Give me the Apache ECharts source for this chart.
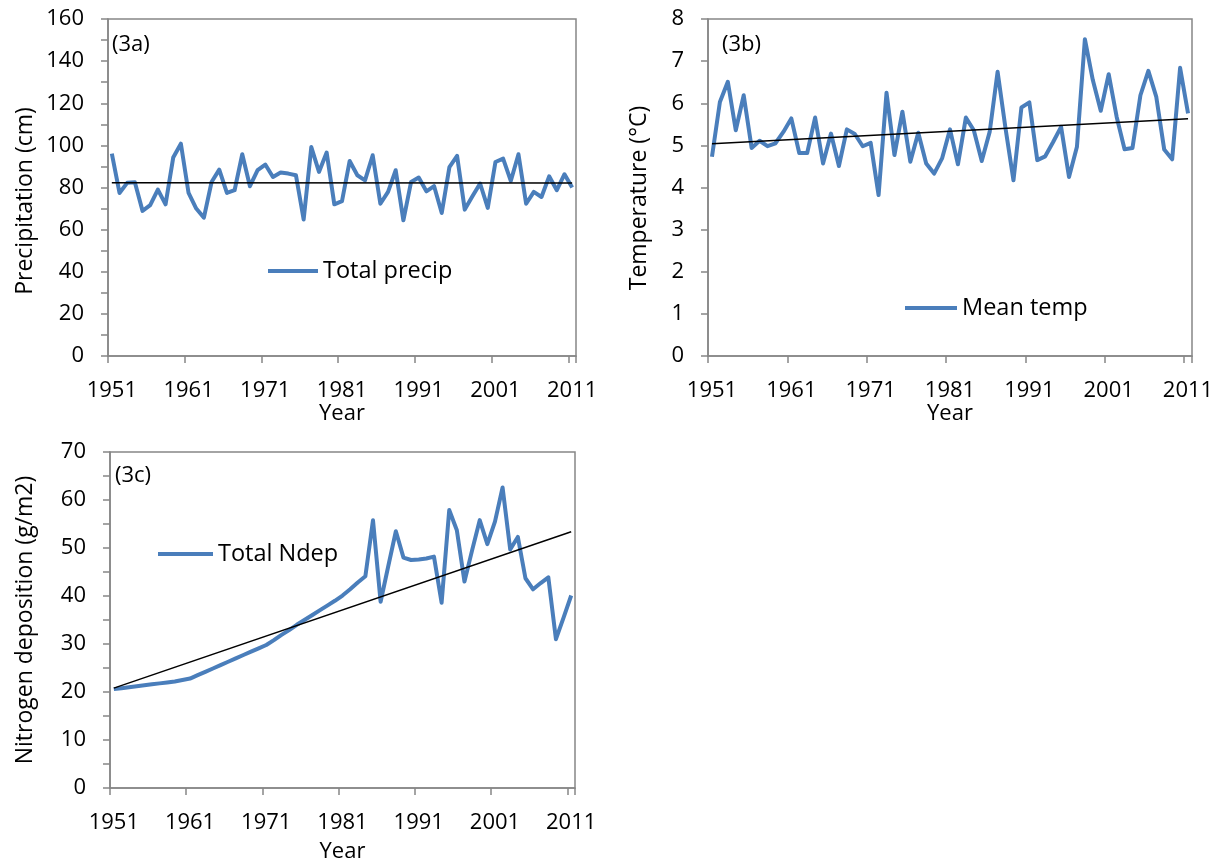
<!DOCTYPE html>
<html>
<head>
<meta charset="utf-8">
<script src="https://cdn.jsdelivr.net/npm/echarts@6/dist/echarts.min.js"></script>
<style>
html,body{margin:0;padding:0;background:#fff;}
#chart{width:1224px;height:867px;}
</style>
</head>
<body>
<div id="chart"></div>
<script>
// ---- data ----
const years = Array.from({length: 61}, (_, i) => String(1951 + i));

const precip = [
  96.1, 77.4, 82.2, 82.5, 68.9, 71.6, 79.0, 72.0, 94.2, 100.8,
  77.4, 70.0, 65.7, 82.6, 88.5, 77.4, 78.7, 95.8, 80.6, 88.2,
  90.9, 85.0, 87.1, 86.6, 85.8, 64.8, 99.2, 87.4, 96.6, 72.0,
  73.5, 92.6, 85.8, 83.4, 95.3, 72.3, 77.9, 88.2, 64.4, 82.6,
  84.7, 78.2, 80.7, 67.9, 89.7, 95.0, 69.5, 75.8, 81.9, 70.3,
  92.1, 93.7, 83.1, 95.8, 72.3, 77.9, 75.5, 85.3, 78.7, 86.3,
  80.0
];
const temp = [
  4.73, 6.03, 6.51, 5.36, 6.19, 4.94, 5.11, 4.98, 5.05, 5.32,
  5.64, 4.82, 4.82, 5.66, 4.57, 5.28, 4.51, 5.38, 5.27, 4.98,
  5.06, 3.82, 6.25, 4.77, 5.80, 4.61, 5.30, 4.57, 4.33, 4.69,
  5.38, 4.55, 5.66, 5.36, 4.63, 5.32, 6.75, 5.40, 4.17, 5.90,
  6.02, 4.65, 4.74, 5.08, 5.44, 4.25, 4.97, 7.52, 6.55, 5.82,
  6.69, 5.68, 4.91, 4.94, 6.19, 6.77, 6.15, 4.90, 4.67, 6.84,
  5.76
];
const ndep = [
  20.6, 20.8, 21.0, 21.2, 21.4, 21.6, 21.8, 22.0, 22.2, 22.5, 22.8,
  23.5, 24.2, 24.9, 25.6, 26.3, 27.0, 27.7, 28.4, 29.1, 29.8,
  30.8, 31.9, 32.9, 34.0, 35.0, 36.0, 37.0, 38.0, 39.0, 40.1,
  41.4, 42.8, 44.1, 55.8, 38.8, 46.2, 53.5, 48.0, 47.5, 47.6,
  47.8, 48.2, 38.6, 57.9, 53.7, 43.0, 49.5, 55.8, 50.8, 55.5,
  62.6, 49.7, 52.3, 43.7, 41.4, 42.7, 43.9, 31.0, 35.5, 40.1
];
// trendline end values (first year, last year)
const precipTrend = [82.3, 82.1];
const tempTrend = [5.04, 5.63];
const ndepTrend = [20.8, 53.4];

// ---- styling ----
const FONT = '"Open Sans", "Noto Sans", sans-serif';
const GRAY = '#868686';
const BLUE = '#4a7ebb';

function xAxisDef(gridIndex, nameGap) {
  return {
    type: 'category', gridIndex: gridIndex, data: years, boundaryGap: true,
    name: 'Year', nameLocation: 'middle', nameGap: nameGap,
    nameTextStyle: {fontFamily: FONT, fontSize: 22, color: '#000'},
    axisLine: {show: true, lineStyle: {color: GRAY, width: 1.5}},
    axisTick: {show: true, interval: 9, length: 7, lineStyle: {color: GRAY, width: 1.5}},
    axisLabel: {interval: 9, margin: 24, fontFamily: FONT, fontSize: 22, color: '#000'},
    splitLine: {show: false}
  };
}
function yAxisDef(gridIndex, max, interval, labelStep) {
  return {
    type: 'value', gridIndex: gridIndex, min: 0, max: max, interval: interval,
    axisLine: {show: true, lineStyle: {color: GRAY, width: 1.5}},
    axisTick: {show: true, length: 7, lineStyle: {color: GRAY, width: 1.5}},
    axisLabel: {margin: 24, fontFamily: FONT, fontSize: 22, color: '#000',
      formatter: function (v) { return (Math.round(v / labelStep * 1000) % 1000 === 0) ? String(v) : ''; }},
    splitLine: {show: false}
  };
}
function dataSeries(name, idx, data) {
  return {
    name: name, type: 'line', xAxisIndex: idx, yAxisIndex: idx, data: data,
    symbol: 'none', smooth: false, z: 2,
    lineStyle: {color: BLUE, width: 4, join: 'round'}, itemStyle: {color: BLUE}
  };
}
function trendSeries(name, idx, ends) {
  return {
    name: name, type: 'line', xAxisIndex: idx, yAxisIndex: idx,
    data: [[years[0], ends[0]], [years[years.length - 1], ends[1]]],
    symbol: 'none', z: 3, silent: true,
    lineStyle: {color: '#000', width: 1.5}
  };
}
function legendDef(name, left, top, w) {
  return {
    data: [name], left: left, top: top, padding: 0, icon: 'rect',
    itemWidth: w, itemHeight: 4, itemGap: 0,
    textStyle: {fontFamily: FONT, fontSize: 23.5, color: '#000'}
  };
}
function label(text, x, y) {
  return {type: 'text', x: x, y: y,
    style: {text: text, fontFamily: FONT, fontSize: 22, fill: '#000', align: 'left', verticalAlign: 'middle'}};
}
function vTitle(text, x, y) {
  return {type: 'text', x: x, y: y, rotation: Math.PI / 2,
    style: {text: text, fontFamily: FONT, fontSize: 23, fill: '#000', align: 'center', verticalAlign: 'middle'}};
}

const chart = echarts.init(document.getElementById('chart'), null, {renderer: 'canvas'});
chart.setOption({
  backgroundColor: '#fff',
  animation: false,
  grid: [
    {left: 108, top: 19, width: 468, height: 337, show: true, borderColor: GRAY, borderWidth: 1.5, backgroundColor: 'transparent'},
    {left: 708, top: 19, width: 484, height: 337, show: true, borderColor: GRAY, borderWidth: 1.5, backgroundColor: 'transparent'},
    {left: 110, top: 452, width: 465, height: 336, show: true, borderColor: GRAY, borderWidth: 1.5, backgroundColor: 'transparent'}
  ],
  xAxis: [xAxisDef(0, 46), xAxisDef(1, 46), xAxisDef(2, 53)],
  yAxis: [yAxisDef(0, 160, 10, 20), yAxisDef(1, 8, 1, 1), yAxisDef(2, 70, 5, 10)],
  legend: [
    legendDef('Total precip', 268, 259, 50),
    legendDef('Mean temp', 905, 296, 52),
    legendDef('Total Ndep', 158, 542, 55)
  ],
  graphic: [
    label('(3a)', 112, 45),
    label('(3b)', 722, 45),
    label('(3c)', 115, 476),
    vTitle('Precipitation (cm)', 25, 201),
    vTitle('Temperature (°C)', 639, 198),
    vTitle('Nitrogen deposition (g/m2)', 25, 620)
  ],
  series: [
    dataSeries('Total precip', 0, precip),
    trendSeries('precip trend', 0, precipTrend),
    dataSeries('Mean temp', 1, temp),
    trendSeries('temp trend', 1, tempTrend),
    dataSeries('Total Ndep', 2, ndep),
    trendSeries('ndep trend', 2, ndepTrend)
  ]
});
</script>
</body>
</html>
